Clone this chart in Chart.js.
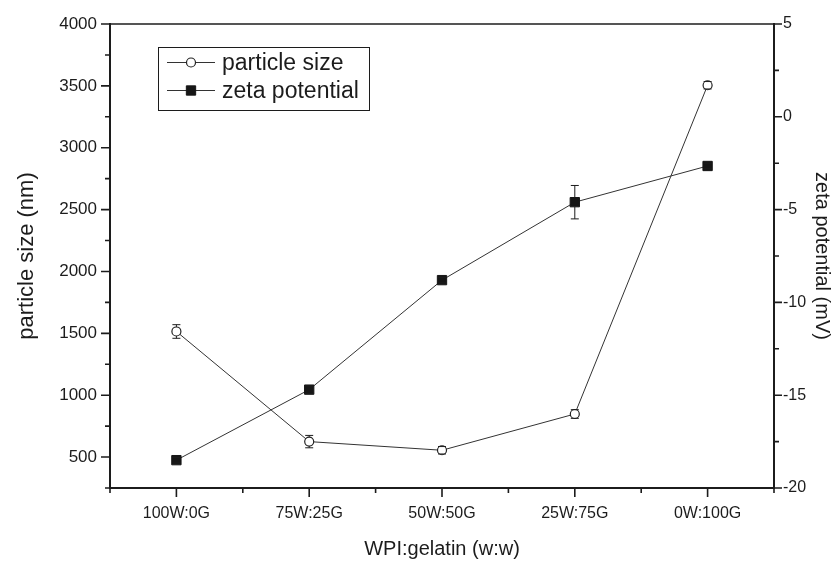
<!DOCTYPE html>
<html>
<head>
<meta charset="utf-8">
<script src="https://cdn.jsdelivr.net/npm/chart.js@4.4.1/dist/chart.umd.min.js"></script>
<style>
  html, body { margin: 0; padding: 0; background: #fff; }
  canvas { display: block; }
</style>
</head>
<body>
<canvas id="chart" width="837" height="561"></canvas>
<script>
// WPI:gelatin blend ratios
const categories = ['100W:0G', '75W:25G', '50W:50G', '25W:75G', '0W:100G'];

// Particle size (nm) with standard deviation
const particleSize = [1515, 625, 555, 848, 3505];
const particleSizeErr = [55, 50, 30, 35, 30];

// Zeta potential (mV) with standard deviation
const zetaPotential = [-18.5, -14.7, -8.8, -4.6, -2.65];
const zetaPotentialErr = [0.15, 0.2, 0.15, 0.9, 0.15];

// Axis tick values
const sizeTicks = [500, 1000, 1500, 2000, 2500, 3000, 3500, 4000];
const zetaTicks = [-20, -15, -10, -5, 0, 5];

const FONT = "'Liberation Sans', Arial, Helvetica, sans-serif";
const INK = '#1c1c1c';

// Midpoints between consecutive values (plus one step below the first) for minor ticks
function minorsOf(ticks, min) {
  const out = [];
  const step = ticks[1] - ticks[0];
  const start = ticks[0] - step / 2;
  for (let v = start; v < ticks[ticks.length - 1]; v += step) {
    if (v >= min - 1e-9) out.push(v);
  }
  return out;
}

// Custom tick marks (long majors, short minors, all pointing outward) and the top frame line
const axisDecor = {
  id: 'axisDecor',
  afterDraw(chart) {
    const { ctx, chartArea: a } = chart;
    const xs = chart.scales.x, yl = chart.scales.y, yr = chart.scales.y2;
    ctx.save();
    ctx.strokeStyle = INK;
    ctx.lineWidth = 1.6;
    ctx.beginPath();
    // bottom axis
    categories.forEach((c, i) => {
      const px = xs.getPixelForValue(i);
      ctx.moveTo(px, a.bottom); ctx.lineTo(px, a.bottom + 9);
    });
    for (let i = 0; i <= categories.length; i++) {
      const px = xs.getPixelForValue(i - 0.5);
      ctx.moveTo(px, a.bottom); ctx.lineTo(px, a.bottom + 5);
    }
    // left axis
    sizeTicks.forEach(v => {
      const py = yl.getPixelForValue(v);
      ctx.moveTo(a.left, py); ctx.lineTo(a.left - 9, py);
    });
    minorsOf(sizeTicks, yl.min).forEach(v => {
      const py = yl.getPixelForValue(v);
      ctx.moveTo(a.left, py); ctx.lineTo(a.left - 5, py);
    });
    // right axis
    zetaTicks.forEach(v => {
      const py = yr.getPixelForValue(v);
      ctx.moveTo(a.right, py); ctx.lineTo(a.right + 8, py);
    });
    minorsOf(zetaTicks, yr.min).forEach(v => {
      const py = yr.getPixelForValue(v);
      ctx.moveTo(a.right, py); ctx.lineTo(a.right + 5, py);
    });
    ctx.stroke();
    // top frame
    ctx.lineWidth = 1.4;
    ctx.beginPath();
    ctx.moveTo(a.left, a.top); ctx.lineTo(a.right, a.top);
    ctx.stroke();
    ctx.restore();
  }
};

// Vertical error bars with caps, kept outside each marker
const errorBars = {
  id: 'errorBars',
  afterDatasetsDraw(chart) {
    const { ctx } = chart;
    const xs = chart.scales.x;
    ctx.save();
    ctx.strokeStyle = INK;
    ctx.lineWidth = 1;
    chart.data.datasets.forEach(ds => {
      const ys = chart.scales[ds.yAxisID];
      const r = ds.markerHalf;
      ds.data.forEach((v, i) => {
        const e = ds.errors[i];
        const px = xs.getPixelForValue(i);
        const py = ys.getPixelForValue(v);
        const top = ys.getPixelForValue(v + e);
        const bot = ys.getPixelForValue(v - e);
        ctx.beginPath();
        if (top < py - r) { ctx.moveTo(px, top); ctx.lineTo(px, py - r); }
        if (bot > py + r) { ctx.moveTo(px, py + r); ctx.lineTo(px, bot); }
        ctx.moveTo(px - 4, top); ctx.lineTo(px + 4, top);
        ctx.moveTo(px - 4, bot); ctx.lineTo(px + 4, bot);
        ctx.stroke();
      });
    });
    ctx.restore();
  }
};

// Boxed legend with a line-through-marker sample for each series
const boxLegend = {
  id: 'boxLegend',
  afterDraw(chart) {
    const { ctx } = chart;
    const box = { x: 158.5, y: 47.5, w: 211, h: 63 };
    ctx.save();
    ctx.fillStyle = '#fff';
    ctx.fillRect(box.x, box.y, box.w, box.h);
    ctx.strokeStyle = INK;
    ctx.lineWidth = 1;
    ctx.strokeRect(box.x, box.y, box.w, box.h);
    chart.data.datasets.forEach((ds, k) => {
      const cy = box.y + 15 + k * 28;
      ctx.strokeStyle = ds.borderColor;
      ctx.lineWidth = 1;
      ctx.beginPath();
      ctx.moveTo(167, cy); ctx.lineTo(215, cy);
      ctx.stroke();
      ctx.fillStyle = ds.pointBackgroundColor;
      ctx.strokeStyle = ds.pointBorderColor;
      ctx.lineWidth = ds.pointBorderWidth;
      ctx.beginPath();
      if (ds.pointStyle === 'rect') {
        const s = Math.SQRT1_2 * ds.pointRadius;
        ctx.rect(191 - s, cy - s, 2 * s, 2 * s);
      } else {
        ctx.arc(191, cy, ds.pointRadius, 0, Math.PI * 2);
      }
      ctx.fill();
      ctx.stroke();
      ctx.fillStyle = INK;
      ctx.font = '23px ' + FONT;
      ctx.textBaseline = 'middle';
      ctx.textAlign = 'left';
      ctx.fillText(ds.label, 222, cy + 1);
    });
    ctx.restore();
  }
};

const plainNumber = v => String(v);

new Chart(document.getElementById('chart'), {
  type: 'line',
  data: {
    labels: categories,
    datasets: [
      {
        label: 'particle size',
        data: particleSize,
        errors: particleSizeErr,
        markerHalf: 4.5,
        yAxisID: 'y',
        borderColor: '#333',
        borderWidth: 1,
        pointStyle: 'circle',
        pointRadius: 4.5,
        pointBackgroundColor: '#fff',
        pointBorderColor: '#222',
        pointBorderWidth: 1.2,
        tension: 0
      },
      {
        label: 'zeta potential',
        data: zetaPotential,
        errors: zetaPotentialErr,
        markerHalf: 4.5,
        yAxisID: 'y2',
        borderColor: '#333',
        borderWidth: 1,
        pointStyle: 'rect',
        pointRadius: 6.6,
        pointBackgroundColor: '#161616',
        pointBorderColor: '#161616',
        pointBorderWidth: 1,
        tension: 0
      }
    ]
  },
  options: {
    responsive: false,
    animation: false,
    layout: { padding: { top: 24, left: 0, right: 0, bottom: 0 } },
    plugins: {
      legend: { display: false },
      title: { display: false },
      tooltip: { enabled: false }
    },
    scales: {
      x: {
        type: 'category',
        offset: true,
        grid: { display: false, drawTicks: false },
        border: { display: true, color: INK, width: 2 },
        ticks: { color: INK, font: { family: FONT, size: 16 }, padding: 16, maxRotation: 0, autoSkip: false },
        title: {
          display: true, text: 'WPI:gelatin (w:w)', color: INK,
          font: { family: FONT, size: 20 }, padding: { top: 0, bottom: 0 }
        },
        afterFit(s) { s.height = 73; }
      },
      y: {
        position: 'left',
        min: 250,
        max: 4000,
        grid: { display: false, drawTicks: false },
        border: { display: true, color: INK, width: 2 },
        afterBuildTicks(s) { s.ticks = sizeTicks.map(v => ({ value: v })); },
        ticks: { color: INK, font: { family: FONT, size: 17 }, padding: 13, callback: plainNumber },
        title: {
          display: true, text: 'particle size (nm)', color: INK,
          font: { family: FONT, size: 22 }, padding: { top: 14, bottom: 0 }
        },
        afterFit(s) { s.width = 110; }
      },
      y2: {
        position: 'right',
        min: -20,
        max: 5,
        grid: { display: false, drawTicks: false },
        border: { display: true, color: INK, width: 2 },
        afterBuildTicks(s) { s.ticks = zetaTicks.map(v => ({ value: v })); },
        ticks: { color: INK, font: { family: FONT, size: 16 }, padding: 9, callback: plainNumber },
        title: {
          display: true, text: 'zeta potential (mV)', color: INK,
          font: { family: FONT, size: 20 }, padding: { top: 3, bottom: 0 }
        },
        afterFit(s) { s.width = 63; }
      }
    }
  },
  plugins: [errorBars, axisDecor, boxLegend]
});
</script>
</body>
</html>
